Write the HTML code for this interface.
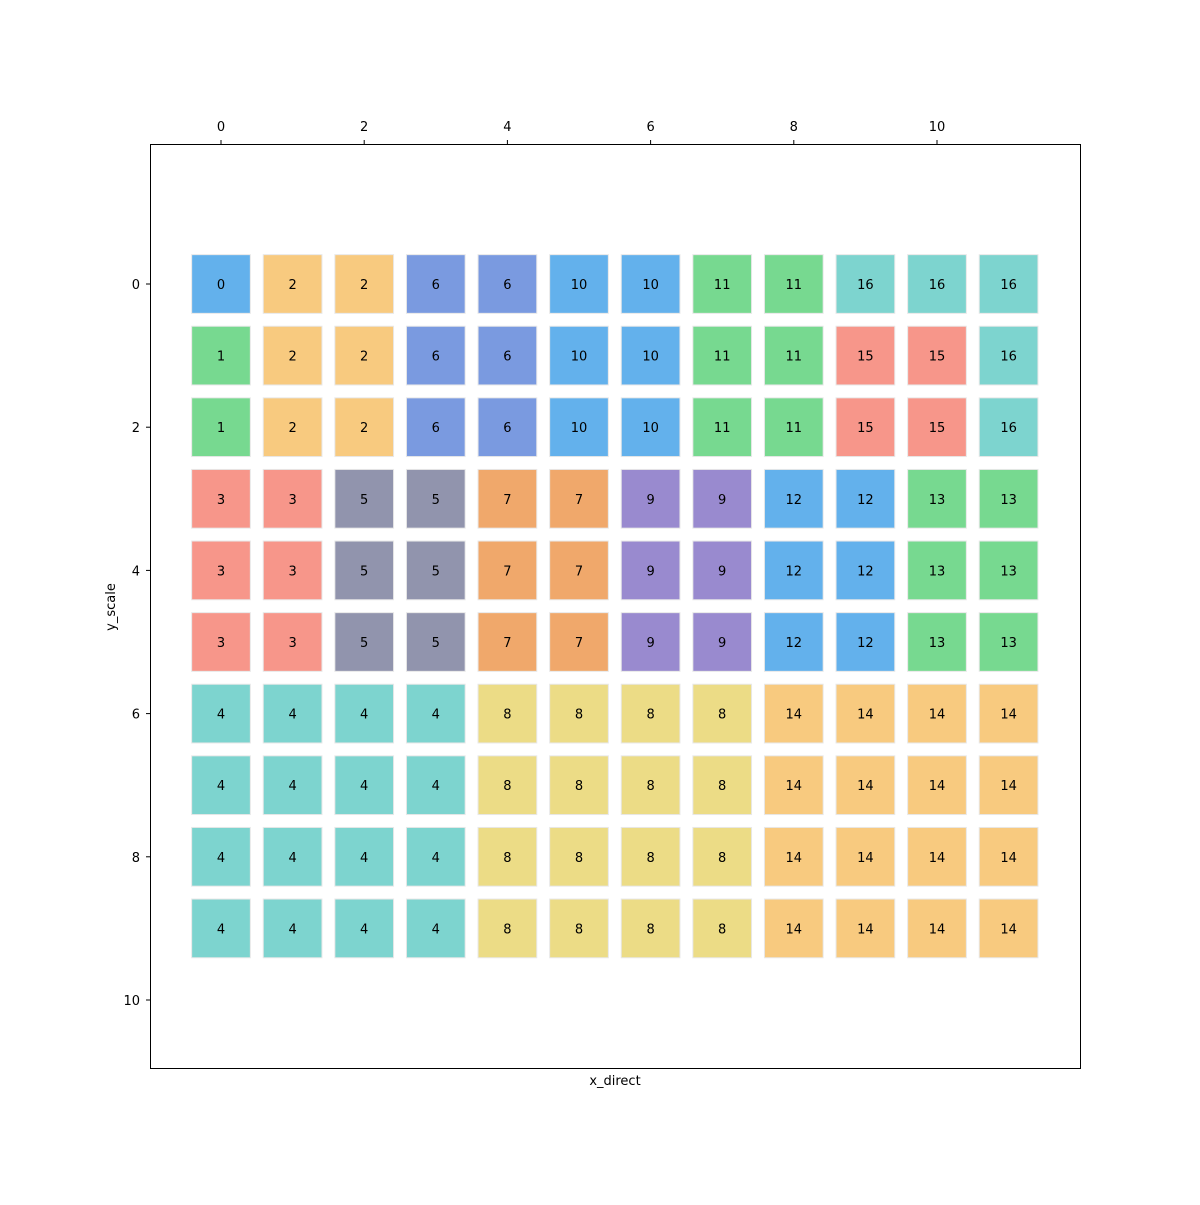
<!DOCTYPE html>
<html><head><meta charset="utf-8"><style>
body{margin:0;background:#fff;}
svg text{font-family:"DejaVu Sans","Liberation Sans",sans-serif;}
</style></head><body>
<svg id="chart" width="1200" height="1200" xmlns="http://www.w3.org/2000/svg">
<rect width="1200" height="1200" fill="#fff"/>
<g id="cells"></g>
<rect x="150.5" y="144.5" width="930" height="924" fill="none" stroke="#000" stroke-width="1"/>
<g id="axes"></g>
<text x="615" y="1085" font-size="13" text-anchor="middle">x_direct</text>
<text x="115" y="607" font-size="13" text-anchor="middle" transform="rotate(-90 115 607)">y_scale</text>
</svg>
<script>
const gridRows = [
 [0,2,2,6,6,10,10,11,11,16,16,16],
 [1,2,2,6,6,10,10,11,11,15,15,16],
 [1,2,2,6,6,10,10,11,11,15,15,16],
 [3,3,5,5,7,7,9,9,12,12,13,13],
 [3,3,5,5,7,7,9,9,12,12,13,13],
 [3,3,5,5,7,7,9,9,12,12,13,13],
 [4,4,4,4,8,8,8,8,14,14,14,14],
 [4,4,4,4,8,8,8,8,14,14,14,14],
 [4,4,4,4,8,8,8,8,14,14,14,14],
 [4,4,4,4,8,8,8,8,14,14,14,14]
];
const labelColors = ["#63b1ec","#77d990","#f8ca7f","#f7968a","#7dd4cf","#9194ad","#7a9ae0","#f0a86b","#ecdc86","#998acf","#63b1ec","#77d990","#63b1ec","#77d990","#f8ca7f","#f7968a","#7dd4cf"];
const xTicks = [0,2,4,6,8,10];
const yTicks = [0,2,4,6,8,10];
const NS="http://www.w3.org/2000/svg";
const xs = v => 221 + v*71.6;
const ys = v => 284 + v*71.6;
const sz = 0.82*71.6;
const cells=document.getElementById('cells');
gridRows.forEach((row,r)=>row.forEach((lab,c)=>{
  const rc=document.createElementNS(NS,'rect');
  rc.setAttribute('x',xs(c)-sz/2);rc.setAttribute('y',ys(r)-sz/2);
  rc.setAttribute('width',sz);rc.setAttribute('height',sz);
  rc.setAttribute('fill',labelColors[lab]);rc.setAttribute('stroke','#e8e8e8');rc.setAttribute('stroke-width','1');
  
  
  cells.appendChild(rc);
  const t=document.createElementNS(NS,'text');
  t.setAttribute('x',xs(c));t.setAttribute('y',ys(r)+5);t.setAttribute('font-size','13');t.setAttribute('text-anchor','middle');
  t.textContent=lab;
  
  
  cells.appendChild(t);
}));
const axes=document.getElementById('axes');
xTicks.forEach(v=>{
  const l=document.createElementNS(NS,'line');
  l.setAttribute('x1',xs(v));l.setAttribute('x2',xs(v));l.setAttribute('y1',144.5);l.setAttribute('y2',140);l.setAttribute('stroke','#000');
  
  
  axes.appendChild(l);
  const t=document.createElementNS(NS,'text');
  t.setAttribute('x',xs(v));t.setAttribute('y',131);t.setAttribute('font-size','13');t.setAttribute('text-anchor','middle');t.textContent=v;
  
  
  axes.appendChild(t);
});
yTicks.forEach(v=>{
  const l=document.createElementNS(NS,'line');
  l.setAttribute('x1',146);l.setAttribute('x2',150.5);l.setAttribute('y1',ys(v));l.setAttribute('y2',ys(v));l.setAttribute('stroke','#000');
  
  
  axes.appendChild(l);
  const t=document.createElementNS(NS,'text');
  t.setAttribute('x',140);t.setAttribute('y',ys(v)+5);t.setAttribute('font-size','13');t.setAttribute('text-anchor','end');t.textContent=v;
  
  
  axes.appendChild(t);
});
</script>
</body></html>
